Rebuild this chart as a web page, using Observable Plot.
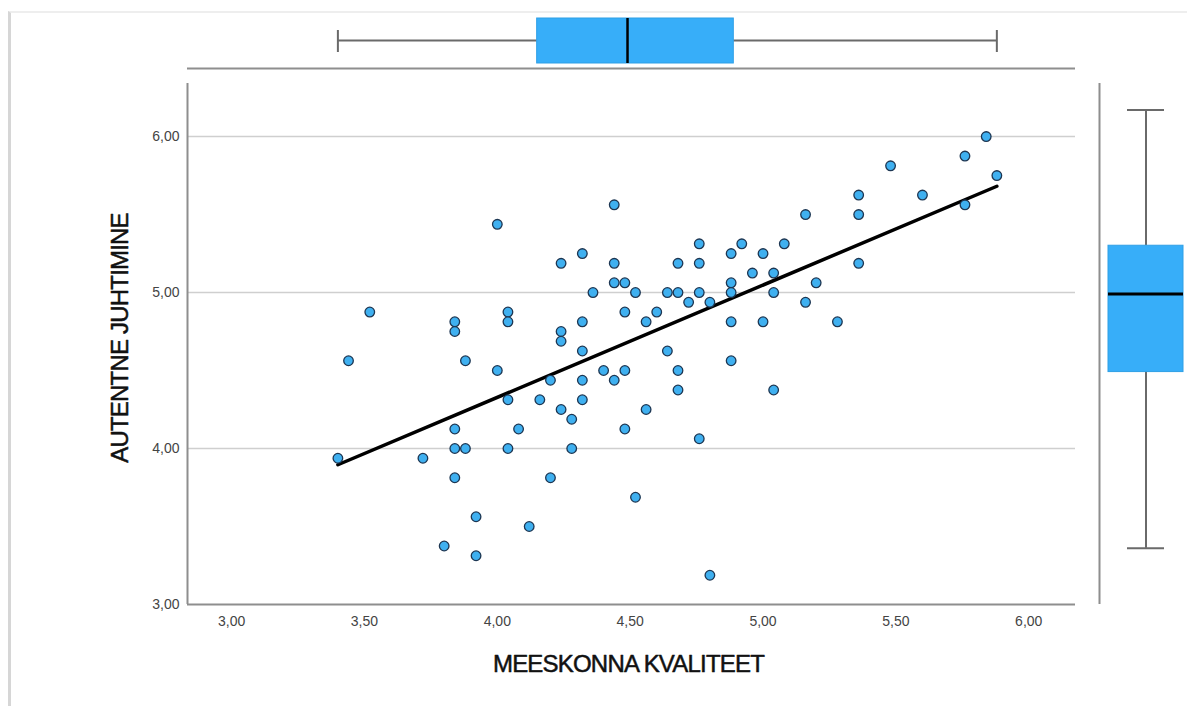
<!DOCTYPE html>
<html>
<head>
<meta charset="utf-8">
<script src="https://cdn.jsdelivr.net/npm/d3@7"></script>
<script src="https://cdn.jsdelivr.net/npm/@observablehq/plot@0.6"></script>
<style>
  html, body { margin: 0; padding: 0; background: #fff; }
  #wrap { position: relative; width: 1187px; height: 706px; overflow: hidden; background: #fff; }
  #edge { position: absolute; left: 8px; top: 11px; right: 0; bottom: 0;
          border-left: 3px solid #d6d6d6; border-top: 2px solid #eeeeee; }
  #top, #main, #side { position: absolute; }
  #top { left: 0; top: 0; width: 1080px; }
  #main { left: 0; top: 72px; width: 1080px; }
  #side { left: 1080px; top: 72px; width: 107px; }
  svg { background: transparent !important; overflow: visible; }
  .title-text text { letter-spacing: -0.8px; }
</style>
</head>
<body>
<div id="wrap">
  <div id="edge"></div>
  <div id="top"></div>
  <div id="main"></div>
  <div id="side"></div>
</div>
<script>
// MEESKONNA KVALITEET (x) and AUTENTNE JUHTIMINE (y), one pair per respondent
const xValues = [
  3.40, 3.44, 3.52, 3.72, 3.80, 3.84, 3.84, 3.84, 3.84, 3.84,
  3.88, 3.88, 3.92, 3.92, 4.00, 4.00, 4.04, 4.04, 4.04, 4.04,
  4.08, 4.12, 4.16, 4.20, 4.20, 4.24, 4.24, 4.24, 4.24, 4.28,
  4.28, 4.32, 4.32, 4.32, 4.32, 4.32, 4.36, 4.40, 4.44, 4.44,
  4.44, 4.44, 4.48, 4.48, 4.48, 4.48, 4.52, 4.52, 4.56, 4.56,
  4.60, 4.64, 4.64, 4.68, 4.68, 4.68, 4.68, 4.72, 4.76, 4.76,
  4.76, 4.76, 4.80, 4.80, 4.88, 4.88, 4.88, 4.88, 4.88, 4.92,
  4.96, 5.00, 5.00, 5.04, 5.04, 5.04, 5.08, 5.16, 5.16, 5.20,
  5.28, 5.36, 5.36, 5.36, 5.48, 5.60, 5.76, 5.76, 5.84, 5.88
];
const yValues = [
  3.9375, 4.5625, 4.875, 3.9375, 3.375, 4.8125, 4.75, 4.125, 4.0, 3.8125,
  4.5625, 4.0, 3.5625, 3.3125, 5.4375, 4.5, 4.875, 4.8125, 4.3125, 4.0,
  4.125, 3.5, 4.3125, 4.4375, 3.8125, 5.1875, 4.75, 4.6875, 4.25, 4.1875,
  4.0, 5.25, 4.8125, 4.625, 4.4375, 4.3125, 5.0, 4.5, 5.5625, 5.1875,
  5.0625, 4.4375, 5.0625, 4.875, 4.5, 4.125, 5.0, 3.6875, 4.8125, 4.25,
  4.875, 5.0, 4.625, 5.1875, 5.0, 4.5, 4.375, 4.9375, 5.3125, 5.1875,
  5.0, 4.0625, 4.9375, 3.1875, 5.25, 5.0625, 5.0, 4.8125, 4.5625, 5.3125,
  5.125, 5.25, 4.8125, 5.125, 5.0, 4.375, 5.3125, 5.5, 4.9375, 5.0625,
  4.8125, 5.625, 5.5, 5.1875, 5.8125, 5.625, 5.875, 5.5625, 6.0, 5.75
];
// Marginal box plot statistics as drawn: [min whisker, Q1, median, Q3, max whisker]
const xBoxStats = [3.40, 4.15, 4.49, 4.89, 5.88];
const yBoxStats = [3.36, 4.49, 4.99, 5.30, 6.17];
// Axis ticks and titles
const xTicks = [3.0, 3.5, 4.0, 4.5, 5.0, 5.5, 6.0];
const yTicks = [3.0, 4.0, 5.0, 6.0];
const yGrid = [4.0, 5.0, 6.0];
const xTitle = "MEESKONNA KVALITEET";
const yTitle = "AUTENTNE JUHTIMINE";

const points = xValues.map((x, i) => ({x, y: yValues[i]}));
const fmt = d => d.toFixed(2).replace(".", ",");

const xDomain = [2.834, 6.176];
const yDomain = [3.0, 6.34];

const dotFill = "#3fb0f0";
const dotStroke = "#1d3652";
const boxFill = "#37aef9";
const axisGray = "#8e8e8e";
const whiskerGray = "#6a6a6a";
const fontFamily = "'Liberation Sans', Arial, sans-serif";

// ---------- main scatter ----------
const main = Plot.plot({
  width: 1080, height: 634,
  marginLeft: 187, marginRight: 5, marginTop: 11, marginBottom: 102,
  style: {fontFamily, color: "#444", background: "transparent"},
  x: {domain: xDomain, axis: null},
  y: {domain: yDomain, axis: null},
  marks: [
    Plot.ruleY(yGrid, {stroke: "#cfcfcf", strokeWidth: 1.5}),
    Plot.ruleY([yDomain[0]], {stroke: axisGray, strokeWidth: 2}),
    Plot.ruleX([xDomain[0]], {stroke: axisGray, strokeWidth: 2}),
    // tick labels
    Plot.text(xTicks, {x: d => d, text: fmt, frameAnchor: "bottom", dy: 17, lineAnchor: "middle",
      fontSize: 14, fill: "#444", fontFamily}),
    Plot.text(yTicks, {y: d => d, text: fmt, frameAnchor: "left", dx: -8, textAnchor: "end", lineAnchor: "middle",
      fontSize: 14, fill: "#444", fontFamily}),
    Plot.linearRegressionY(points, {x: "x", y: "y", stroke: "#000", strokeWidth: 3.5, ci: 0}),
    Plot.dot(points, {x: "x", y: "y", r: 4.8, fill: dotFill, stroke: dotStroke, strokeWidth: 1.3}),
    Plot.text([xTitle], {frameAnchor: "bottom", dy: 60, dx: -3, textAnchor: "middle", lineAnchor: "middle",
      fontSize: 24, fill: "#111", stroke: "#111", strokeWidth: 0.5, fontFamily, text: d => d, className: "title-text"}),
    Plot.text([yTitle], {frameAnchor: "left", dx: -67, dy: -6, rotate: -90, textAnchor: "middle", lineAnchor: "middle",
      fontSize: 24, fill: "#111", stroke: "#111", strokeWidth: 0.5, fontFamily, text: d => d, className: "title-text"})
  ]
});
document.getElementById("main").appendChild(main);

// ---------- top marginal box plot (x) ----------
const [xMin, xQ1, xMed, xQ3, xMax] = xBoxStats;
const topPlot = Plot.plot({
  width: 1080, height: 72,
  marginLeft: 187, marginRight: 5, marginTop: 0, marginBottom: 4,
  style: {background: "transparent"},
  x: {domain: xDomain, axis: null},
  y: {domain: [0, 1], axis: null},
  marks: [
    Plot.ruleY([0], {stroke: axisGray, strokeWidth: 2}),
    Plot.rect([{a: xMin, b: xQ1}, {a: xQ3, b: xMax}], {x1: "a", x2: "b", fill: whiskerGray, insetTop: 39.5, insetBottom: 26.5}),
    Plot.tickX([xMin, xMax], {x: d => d, stroke: whiskerGray, strokeWidth: 2, insetTop: 30, insetBottom: 16}),
    Plot.rect([{a: xQ1, b: xQ3}], {x1: "a", x2: "b", fill: boxFill, stroke: "#2f9fe6", strokeWidth: 1, insetTop: 18, insetBottom: 5}),
    Plot.tickX([xMed], {x: d => d, stroke: "#000", strokeWidth: 2.5, insetTop: 18, insetBottom: 5})
  ]
});
document.getElementById("top").appendChild(topPlot);

// ---------- right marginal box plot (y) ----------
const [yMin, yQ1, yMed, yQ3, yMax] = yBoxStats;
const sidePlot = Plot.plot({
  width: 107, height: 634,
  marginLeft: 19, marginRight: 0, marginTop: 11, marginBottom: 102,
  style: {background: "transparent"},
  x: {domain: [0, 1], axis: null},
  y: {domain: yDomain, axis: null},
  marks: [
    Plot.ruleX([0], {stroke: axisGray, strokeWidth: 2}),
    Plot.rect([{a: yMin, b: yQ1}, {a: yQ3, b: yMax}], {y1: "a", y2: "b", fill: whiskerGray, insetLeft: 46, insetRight: 40}),
    Plot.tickY([yMin, yMax], {y: d => d, stroke: whiskerGray, strokeWidth: 2, insetLeft: 28, insetRight: 23}),
    Plot.rect([{a: yQ1, b: yQ3}], {y1: "a", y2: "b", fill: boxFill, stroke: "#2f9fe6", strokeWidth: 1, insetLeft: 9, insetRight: 4}),
    Plot.tickY([yMed], {y: d => d, stroke: "#000", strokeWidth: 3, insetLeft: 9, insetRight: 4})
  ]
});
document.getElementById("side").appendChild(sidePlot);
</script>
</body>
</html>
